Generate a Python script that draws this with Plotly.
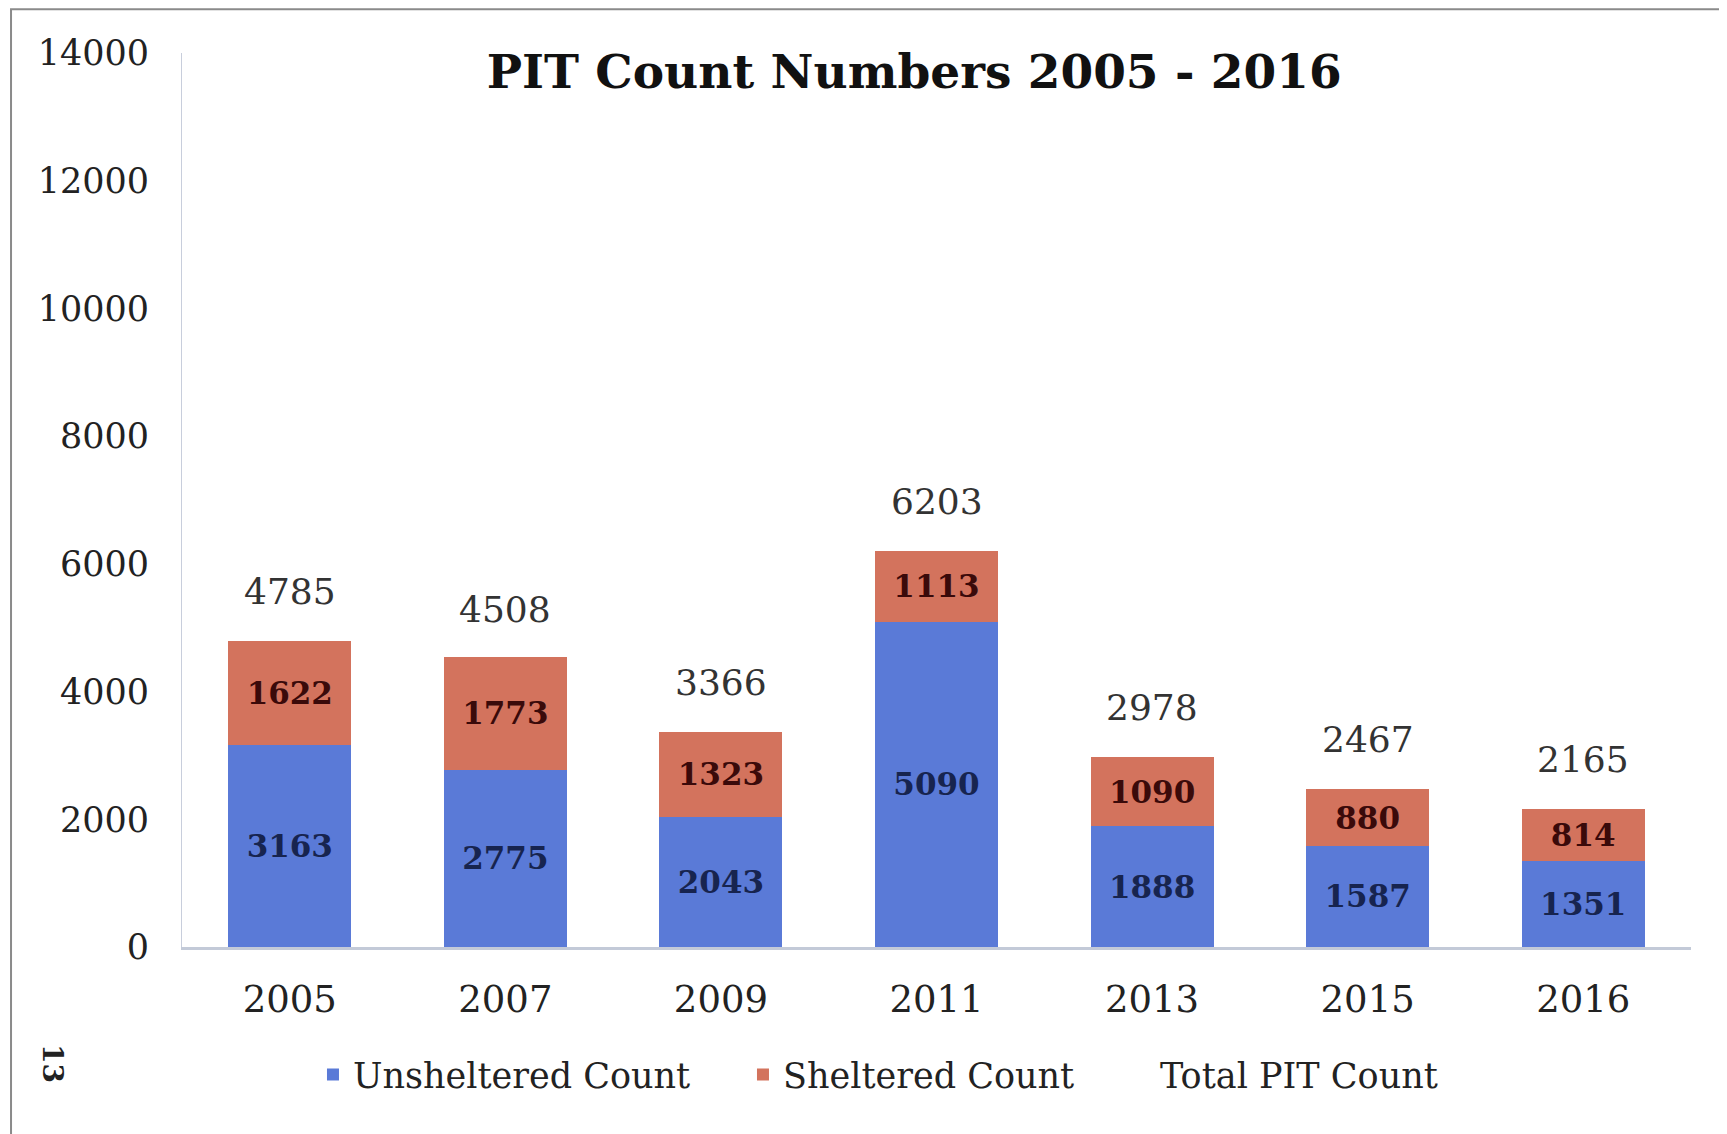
import plotly.graph_objects as go

years = ["2005", "2007", "2009", "2011", "2013", "2015", "2016"]
unsheltered = [3163, 2775, 2043, 5090, 1888, 1587, 1351]
sheltered = [1622, 1773, 1323, 1113, 1090, 880, 814]
totals = [4785, 4508, 3366, 6203, 2978, 2467, 2165]
y_ticks = [0, 2000, 4000, 6000, 8000, 10000, 12000, 14000]

FONT = "DejaVu Serif"
BLUE = "#5A7AD7"
RED = "#D3735D"

fig = go.Figure()
fig.add_trace(go.Bar(
    x=years, y=unsheltered, name="Unsheltered Count",
    marker=dict(color=BLUE, line=dict(width=0)),
    text=[f"<b>{v}</b>" for v in unsheltered], textposition="inside",
    insidetextanchor="middle", constraintext="none",
    textfont=dict(family=FONT, size=31, color="#17244F"),
    legend="legend",
))
fig.add_trace(go.Bar(
    x=years, y=sheltered, name="Sheltered Count",
    marker=dict(color=RED, line=dict(width=0)),
    text=[f"<b>{v}</b>" for v in sheltered], textposition="inside",
    insidetextanchor="middle", constraintext="none",
    textfont=dict(family=FONT, size=31, color="#3A0A0A"),
    legend="legend",
))
fig.add_trace(go.Scatter(
    x=years, y=totals, name="Total PIT Count", mode="lines",
    line=dict(color="rgba(0,0,0,0)", width=0), hoverinfo="skip",
    legend="legend2",
))

# total labels above the bars (category index positions)
for i, t in enumerate(totals):
    fig.add_annotation(x=i, y=t, xref="x", yref="y", text=str(t),
                       showarrow=False, yanchor="bottom", yshift=27,
                       font=dict(family=FONT, size=36, color="#333333"))

# page number, rotated
fig.add_annotation(xref="paper", yref="paper", x=-0.098, y=-0.1545,
                   text="<b>13</b>", showarrow=False, textangle=90,
                   font=dict(family=FONT, size=28, color="#222222"))

# scanned page frame
fig.add_shape(type="rect", xref="paper", yref="paper",
              x0=-0.1133, x1=1.0225, y0=-0.2103, y1=1.049,
              line=dict(color="#8A8A8A", width=2), layer="below")

legend_font = dict(family=FONT, size=35, color="#222222")

fig.update_layout(
    width=1727, height=1134,
    margin=dict(l=174, r=44, t=45, b=195),
    paper_bgcolor="white", plot_bgcolor="white",
    barmode="stack", bargap=0.43,
    font=dict(family=FONT, color="#222222"),
    title=dict(text="<b>PIT Count Numbers 2005 - 2016</b>",
               x=0.5247, xanchor="center", y=0.944, yanchor="middle",
               yref="container",
               font=dict(family=FONT, size=47, color="#111111")),
    showlegend=True,
    legend=dict(orientation="h", x=0.0868, xanchor="left",
                y=-0.143, yanchor="middle", font=legend_font,
                itemwidth=30, traceorder="normal",
                entrywidth=385, entrywidthmode="pixels",
                bgcolor="rgba(0,0,0,0)"),
    legend2=dict(orientation="h", x=0.6216, xanchor="left",
                 y=-0.143, yanchor="middle", font=legend_font,
                 itemwidth=30, bgcolor="rgba(0,0,0,0)"),
    xaxis=dict(type="category", range=[-0.5, len(years) - 0.5],
               showgrid=False, showline=True,
               linecolor="#C3CAD8", linewidth=3,
               ticks="", tickfont=dict(family=FONT, size=37, color="#222222"),
               ticklabelstandoff=18),
    yaxis=dict(range=[0, 14000], tickvals=y_ticks, tickformat="d",
               showgrid=False,
               showline=True, linecolor="#C8CEDC", linewidth=1, zeroline=False,
               ticks="", tickfont=dict(family=FONT, size=35, color="#222222"),
               ticklabelstandoff=25),
)

fig.write_html("out.html")
